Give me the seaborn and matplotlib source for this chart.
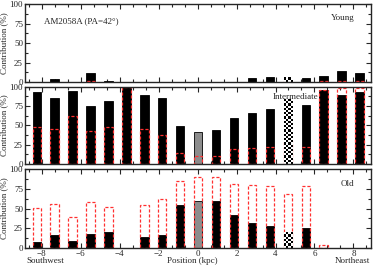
import numpy as np
import pandas as pd
import matplotlib
matplotlib.use("Agg")
import matplotlib.pyplot as plt
from matplotlib.ticker import MultipleLocator
import seaborn as sns

# ======================================================
# Data
# ======================================================

position = [-8.25, -7.33, -6.41, -5.49, -4.57, -3.65, -2.73, -1.81, -0.89, 0.03,
            0.95, 1.87, 2.79, 3.71, 4.63, 5.55, 6.47, 7.39, 8.31]
kind = ["field"] * 9 + ["nucleus"] + ["field"] * 4 + ["knot"] + ["field"] * 4

young_light = [0, 4, 0, 11, 1, 0, 0, 0, 0, 0, 0, 0, 4.7, 6.8, 4.7, 4.7, 7.7, 14.5, 12]
young_mass = [0, 0, 0, 1.5, 0, 0, 0, 0, 0, 0, 0, 0, 0, 0, 1.5, 0, 1, 1.7, 1.5]

inter_light = [93, 85, 94, 75, 82, 100, 89, 86, 49, 42, 44, 60, 65.5, 71, 81.5, 76, 96, 89, 93]
inter_mass = [48, 45, 62, 43, 48, 100, 45, 38, 14, 10.5, 10.5, 19.5, 21, 22, 30, 22, 96, 98.5, 99]

old_light = [7.7, 16, 8.5, 18, 20.5, 0, 13, 16, 55, 59, 59, 42, 32, 28, 18.5, 25, 0, 0, 0]
old_mass = [51, 55.5, 39, 58, 51.5, 0, 55, 62, 85.5, 90, 90, 81, 80, 79, 68.5, 79, 4, 0, 0]

panels = [("Young", young_light, young_mass),
          ("Intermediate", inter_light, inter_mass),
          ("Old", old_light, old_mass)]

palette = {"field": "black", "nucleus": "#8c8c8c", "knot": "white"}

# ======================================================
# Style
# ======================================================

sns.set_style("ticks")
plt.rcParams['font.family'] = ['Liberation Serif', 'DejaVu Serif']
plt.rcParams['axes.linewidth'] = 1.0


def checker(ax, bar):
    # checkerboard fill, clipped to the bar
    x0, w, h = bar.get_x(), bar.get_width(), bar.get_height()
    side = 2.8
    rows = int(np.ceil(h / side))
    board = np.indices((rows, 4)).sum(axis=0) % 2
    ax.imshow(board, cmap="gray_r", extent=(x0, x0 + w, 0, rows * side),
              aspect="auto", interpolation="nearest", origin="lower",
              clip_path=bar, zorder=bar.get_zorder() + 0.1)


fig, axes = plt.subplots(3, 1, figsize=(3.74, 2.68), dpi=100)

boxes = [(0.067, 0.694, 0.925, 0.291),
         (0.067, 0.388, 0.925, 0.288),
         (0.067, 0.076, 0.925, 0.292)]

for ax, box, (name, light, mass) in zip(axes, boxes, panels):
    ax.set_position(box)
    df = pd.DataFrame({"position": position, "light": light, "mass": mass, "kind": kind})

    lit = df[df["light"] > 0]
    sns.barplot(data=lit, x="position", y="light", hue="kind", palette=palette,
                native_scale=True, width=0.47, edgecolor="black", linewidth=0.6,
                errorbar=None, legend=False, ax=ax)
    for bar in list(ax.patches):
        if bar.get_height() > 0 and bar.get_facecolor()[:3] == (1.0, 1.0, 1.0):
            checker(ax, bar)

    mas = df[df["mass"] > 0]
    sns.barplot(data=mas, x="position", y="mass", native_scale=True, width=0.47,
                fill=False, color="#ff3030", linestyle=(0, (2.5, 1.5)), linewidth=0.9,
                errorbar=None, ax=ax)

    ax.set_xlim(-8.85, 8.9)
    ax.set_ylim(0, 100)
    ax.set_yticks([0, 25, 50, 75, 100])
    ax.set_xticks([-8, -6, -4, -2, 0, 2, 4, 6, 8])
    ax.xaxis.set_minor_locator(MultipleLocator(2 / 3))
    ax.yaxis.set_minor_locator(MultipleLocator(12.5))
    ax.tick_params(which="both", direction="in", top=True, right=True,
                   labelsize=6.5, width=0.8, pad=1.5)
    ax.tick_params(which="major", length=3.5)
    ax.tick_params(which="minor", length=2)
    ax.set_ylabel("Contribution (%)", fontsize=6.5, labelpad=1)
    ax.set_xlabel("")
    if name != "Old":
        ax.tick_params(axis="x", labelbottom=False)

axes[0].text(-7.9, 78, "AM2058A (PA=42°)", fontsize=6.5, va="center", ha="left")
axes[0].text(8.05, 82, "Young", fontsize=6.5, va="center", ha="right")
axes[1].text(5.0, 87, "Intermediate", fontsize=6.5, va="center", ha="center")
axes[2].text(8.05, 81, "Old", fontsize=6.5, va="center", ha="right")

# bottom annotations on one line under the tick labels
axes[2].text(-0.25, -0.175, "Position (kpc)", transform=axes[2].get_xaxis_transform(),
             fontsize=6.5, ha="center", va="center")
axes[2].text(0.005, -0.175, "Southwest", transform=axes[2].transAxes,
             fontsize=6.5, ha="left", va="center")
axes[2].text(0.998, -0.175, "Northeast", transform=axes[2].transAxes,
             fontsize=6.5, ha="right", va="center")

plt.savefig("out.png", dpi=100)
